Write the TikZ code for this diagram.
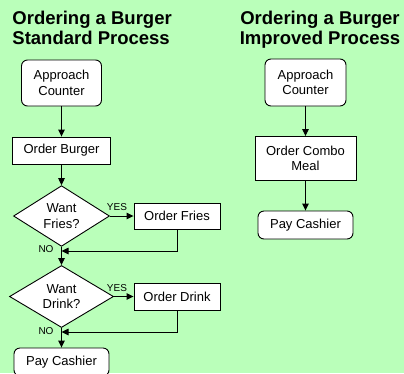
\documentclass[tikz,border=0pt]{standalone}
\usepackage{fontspec}
\setmainfont{Liberation Sans}
\usepackage{xcolor}
\usetikzlibrary{shapes.geometric, arrows.meta}

\definecolor{sheetgreen}{RGB}{186,255,186}

\begin{document}
\begin{tikzpicture}[
  x=1pt, y=-1pt,
  line width=0.9pt,
  flow/.style={-{Triangle[length=7pt, width=6.5pt]}},
  every node/.style={font=\fontsize{13}{15.5}\selectfont, align=center, inner sep=0pt},
  task/.style={rectangle, draw, fill=white},
  endpoint/.style={rectangle, rounded corners=6pt, draw, fill=white},
  choice/.style={diamond, draw, fill=white},
  title/.style={font=\fontsize{18.5}{20}\bfseries},
  tag/.style={font=\fontsize{10}{11}\selectfont}
]
\useasboundingbox[fill=sheetgreen] (0,0) rectangle (404,373);

% titles
\node[title, anchor=north west, align=left] (ttl1) at (12,11) {Ordering a Burger\\Standard Process};
\node[title, anchor=north] (ttl2) at (320,11) {Ordering a Burger\\Improved Process};

% standard process
\node[endpoint, minimum width=80pt, minimum height=46pt] (a1) at (61.5,83) {Approach\\Counter};
\node[task, minimum width=98pt, minimum height=27pt] (b1) at (61.5,150.5) {Order Burger};
\node[choice, minimum width=96pt, minimum height=57pt] (d1) at (61.5,216) {Want\\Fries?};
\node[task, minimum width=86pt, minimum height=26pt] (f1) at (177,216) {Order Fries};
\node[choice, minimum width=104pt, minimum height=57pt] (d2) at (61.5,296.5) {Want\\Drink?};
\node[task, minimum width=86pt, minimum height=27pt] (k1) at (177,296.5) {Order Drink};
\node[endpoint, minimum width=95pt, minimum height=28pt] (p1) at (61.5,362) {Pay Cashier};
\coordinate (j1) at (61.5,251);
\coordinate (j2) at (61.5,332);

\draw[flow] (a1) -- (b1);
\draw[flow] (b1) -- (d1);
\draw[flow] (d1) -- (d2);
\draw[flow] (d2) -- (p1);
\draw[flow] (d1) -- (f1);
\draw[flow] (d2) -- (k1);
\draw[flow] (f1.south) |- (j1);
\draw[flow] (k1.south) |- (j2);

\node[tag] (y1) at (117,207) {YES};
\node[tag] (y2) at (117,288) {YES};
\node[tag] (n1) at (46,249) {NO};
\node[tag] (n2) at (46,331) {NO};

% improved process
\node[endpoint, minimum width=81pt, minimum height=47pt] (a2) at (305.5,82.5) {Approach\\Counter};
\node[task, minimum width=101pt, minimum height=44pt] (c2) at (305.5,158.5) {Order Combo\\Meal};
\node[endpoint, minimum width=95pt, minimum height=28pt] (p2) at (305.5,225) {Pay Cashier};

\draw[flow] (a2) -- (c2);
\draw[flow] (c2) -- (p2);
\end{tikzpicture}
\end{document}
